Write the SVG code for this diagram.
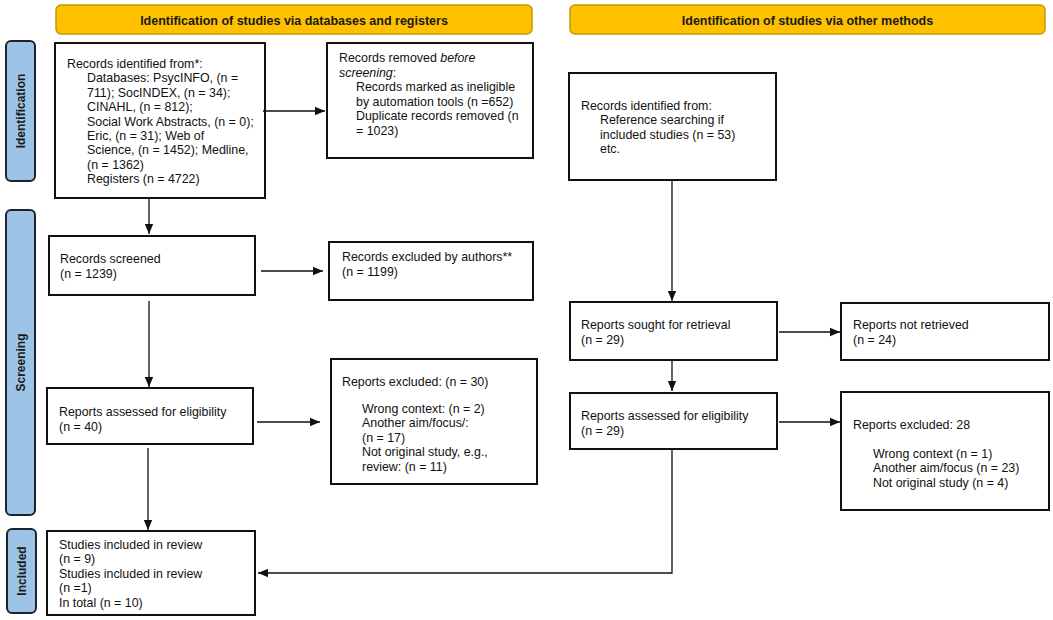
<svg xmlns="http://www.w3.org/2000/svg" width="1053" height="620" viewBox="0 0 1053 620">
<style>
.hdr{fill:#FFC000;stroke:#C49A00;stroke-width:1.5}
.hdrt{font-family:"Liberation Sans",Arial,sans-serif;font-size:12.5px;font-weight:bold;fill:#1a1a1a;text-anchor:middle}
.side{fill:#9DC3E6;stroke:#1c232c;stroke-width:2}
.sidet{font-family:"Liberation Sans",Arial,sans-serif;font-size:12px;font-weight:bold;fill:#1a1a1a;text-anchor:middle}
.box{fill:#fff;stroke:#111;stroke-width:2}
.t{font-family:"Liberation Sans",Arial,sans-serif;font-size:12.4px;fill:#111}
.ln{fill:none;stroke:#111;stroke-width:1.3}
</style>
<defs>
<marker id="ah" markerUnits="userSpaceOnUse" markerWidth="10" markerHeight="10" viewBox="0 0 10 10" refX="10" refY="5" orient="auto">
<path d="M0,0.8 L10,5 L0,9.2 Z" fill="#111"/>
</marker>
</defs>
<rect width="1053" height="620" fill="#fff"/>

<g id="header-databases"><rect class="hdr" x="56" y="5" width="476" height="29" rx="5"/><text class="hdrt" x="294" y="24.5">Identification of studies via databases and registers</text></g>
<g id="header-other"><rect class="hdr" x="570" y="5" width="475" height="29" rx="5"/><text class="hdrt" x="807.5" y="24.5">Identification of studies via other methods</text></g>

<g id="side-identification"><rect class="side" x="6" y="41" width="29" height="140" rx="5"/><text class="sidet" transform="translate(25,111) rotate(-90)">Identification</text></g>
<g id="side-screening"><rect class="side" x="6" y="210" width="29" height="305" rx="5"/><text class="sidet" transform="translate(25,362.5) rotate(-90)">Screening</text></g>
<g id="side-included"><rect class="side" x="7" y="529" width="29" height="84" rx="5"/><text class="sidet" transform="translate(25.5,571) rotate(-90)">Included</text></g>

<g id="records-identified"><rect class="box" x="55" y="43" width="210" height="155"/>
<text class="t"><tspan x="67" y="68">Records identified from*:</tspan><tspan x="87" y="82.4">Databases: PsycINFO, (n =</tspan><tspan x="87" y="96.8">711); SocINDEX, (n = 34);</tspan><tspan x="87" y="111.2">CINAHL, (n = 812);</tspan><tspan x="87" y="125.6">Social Work Abstracts, (n = 0);</tspan><tspan x="87" y="140">Eric, (n = 31); Web of</tspan><tspan x="87" y="154.4">Science, (n = 1452); Medline,</tspan><tspan x="87" y="168.8">(n = 1362)</tspan><tspan x="87" y="183.2">Registers (n = 4722)</tspan></text></g>

<g id="records-removed"><rect class="box" x="327" y="43" width="206" height="115"/>
<text class="t"><tspan x="339" y="62">Records removed <tspan font-style="italic">before</tspan></tspan><tspan x="339" y="76.5"><tspan font-style="italic">screening</tspan>:</tspan><tspan x="356" y="91">Records marked as ineligible</tspan><tspan x="356" y="105.5">by automation tools (n =652)</tspan><tspan x="356" y="120">Duplicate records removed (n</tspan><tspan x="356" y="134.5">= 1023)</tspan></text></g>

<g id="records-other"><rect class="box" x="569" y="73" width="207" height="107"/>
<text class="t"><tspan x="581" y="110">Records identified from:</tspan><tspan x="600" y="124.4">Reference searching if</tspan><tspan x="600" y="138.8">included studies (n = 53)</tspan><tspan x="600" y="153.2">etc.</tspan></text></g>

<g id="records-screened"><rect class="box" x="49" y="236" width="206" height="59"/>
<text class="t"><tspan x="60" y="263">Records screened</tspan><tspan x="60" y="278">(n = 1239)</tspan></text></g>

<g id="records-excluded"><rect class="box" x="329" y="242" width="204" height="58"/>
<text class="t"><tspan x="342" y="261">Records excluded by authors**</tspan><tspan x="342" y="276">(n = 1199)</tspan></text></g>

<g id="reports-assessed-db"><rect class="box" x="47" y="388" width="206" height="56"/>
<text class="t"><tspan x="59" y="416">Reports assessed for eligibility</tspan><tspan x="59" y="431">(n = 40)</tspan></text></g>

<g id="reports-excluded-db"><rect class="box" x="331" y="359" width="206" height="125"/>
<text class="t"><tspan x="342" y="386">Reports excluded: (n = 30)</tspan><tspan x="362" y="413">Wrong context: (n = 2)</tspan><tspan x="362" y="427.4">Another aim/focus/:</tspan><tspan x="362" y="441.8">(n = 17)</tspan><tspan x="362" y="456.2">Not original study, e.g.,</tspan><tspan x="362" y="470.6">review: (n = 11)</tspan></text></g>

<g id="studies-included"><rect class="box" x="47" y="531" width="208" height="84"/>
<text class="t"><tspan x="59" y="549">Studies included in review</tspan><tspan x="59" y="563.4">(n = 9)</tspan><tspan x="59" y="577.8">Studies included in review</tspan><tspan x="59" y="592.2">(n =1)</tspan><tspan x="59" y="606.6">In total (n = 10)</tspan></text></g>

<g id="reports-sought"><rect class="box" x="570" y="302" width="207" height="58"/>
<text class="t"><tspan x="581" y="329">Reports sought for retrieval</tspan><tspan x="581" y="344">(n = 29)</tspan></text></g>

<g id="reports-not-retrieved"><rect class="box" x="841" y="303" width="208" height="57"/>
<text class="t"><tspan x="853" y="329">Reports not retrieved</tspan><tspan x="853" y="344">(n = 24)</tspan></text></g>

<g id="reports-assessed-other"><rect class="box" x="570" y="393" width="207" height="56"/>
<text class="t"><tspan x="581" y="420">Reports assessed for eligibility</tspan><tspan x="581" y="435">(n = 29)</tspan></text></g>

<g id="reports-excluded-other"><rect class="box" x="841" y="392" width="208" height="118"/>
<text class="t"><tspan x="853" y="429">Reports excluded: 28</tspan><tspan x="873" y="458">Wrong context (n = 1)</tspan><tspan x="873" y="472.4">Another aim/focus (n = 23)</tspan><tspan x="873" y="486.8">Not original study (n = 4)</tspan></text></g>

<g id="connectors">
<line class="ln" x1="263" y1="111" x2="325" y2="111" marker-end="url(#ah)"/>
<line class="ln" x1="149" y1="198" x2="149" y2="234" marker-end="url(#ah)"/>
<line class="ln" x1="261" y1="271" x2="323" y2="271" marker-end="url(#ah)"/>
<line class="ln" x1="149" y1="301" x2="149" y2="387" marker-end="url(#ah)"/>
<line class="ln" x1="257" y1="422" x2="320" y2="422" marker-end="url(#ah)"/>
<line class="ln" x1="148" y1="448" x2="148" y2="530" marker-end="url(#ah)"/>
<line class="ln" x1="672" y1="180" x2="672" y2="301" marker-end="url(#ah)"/>
<line class="ln" x1="779" y1="332" x2="840" y2="332" marker-end="url(#ah)"/>
<line class="ln" x1="672" y1="360" x2="672" y2="391" marker-end="url(#ah)"/>
<line class="ln" x1="779" y1="422" x2="840" y2="422" marker-end="url(#ah)"/>
<polyline class="ln" points="672,449 672,573 258,573" marker-end="url(#ah)"/>
</g>
</svg>
